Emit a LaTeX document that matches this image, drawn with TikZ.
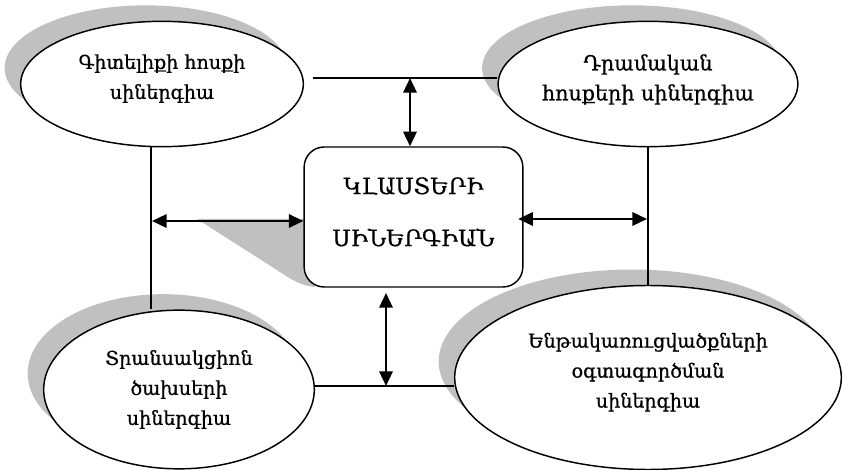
\documentclass[tikz,border=0pt]{standalone}
\usepackage{fontspec}
\setmainfont{DejaVu Serif}
\newfontfamily\armfont{DejaVu Serif}[FakeBold=0.8]
\newfontfamily\armcaps{DejaVu Serif}[FakeBold=0.4]
\usetikzlibrary{shapes.geometric,shadows,arrows.meta}
\definecolor{shadowgray}{RGB}{192,192,192}

\begin{document}
\begin{tikzpicture}[
    x=0.75pt, y=-0.75pt,
    synergy/.style={ellipse, draw=black, line width=1.1pt, fill=white, inner sep=0pt, align=center, font=\armfont\fontsize{14.3}{22.5}\selectfont, drop shadow={shadow xshift=-12pt, shadow yshift=12pt, fill=shadowgray, opacity=1}},
    cluster/.style={rectangle, rounded corners=15pt, draw=black, line width=1.1pt, fill=white, minimum width=164pt, minimum height=105pt, align=center, text depth=8pt, font=\armcaps\fontsize{17}{39}\selectfont},
    link/.style={line width=1.1pt},
    arrow/.style={line width=1.8pt,<->,>={Triangle[length=11pt,width=10pt]}}
]
\useasboundingbox (0,0) rectangle (843,470);

% Shadow behind the cluster box
\fill[shadowgray] (197,219) -- (280,272) .. controls (292,280) and (300,285) .. (314,287) -- (330,250) -- (330,219) -- cycle;

% Synergy ellipses and the cluster box
\node[synergy, minimum width=212pt, minimum height=94pt, text depth=11pt] (knowledge) at (162,84) {Գիտելիքի հոսքի\\սիներգիա};
\node[synergy, minimum width=224pt, minimum height=94pt, text depth=10pt, font=\armfont\fontsize{15.5}{22.5}\selectfont] (money) at (648,84) {Դրամական\\հոսքերի սիներգիա};
\node[cluster] (cluster) at (413.5,217) {ԿԼԱՍՏԵՐԻ\\ՍԻՆԵՐԳԻԱՆ};
\node[synergy, minimum width=203pt, minimum height=119pt] (transact) at (179,389.5) {Տրանսակցիոն\\ծախսերի\\սիներգիա};
\node[synergy, minimum width=290pt, minimum height=138pt, text depth=11pt] (infra) at (648,377.5) {Ենթակառուցվածքների\\օգտագործման\\սիներգիա};

% Connecting lines
\coordinate (topL) at (313,78);
\coordinate (leftV) at (151,0);
\coordinate (botL) at (0,386);
\draw[link] (topL) -- (topL -| money.west);
\draw[link] (knowledge.south -| leftV) -- (transact.north -| leftV);
\draw[link] (money.south) -- (infra.north);
\draw[link] (botL -| transact.east) -- (botL -| infra.west);

% Double arrows to the cluster
\coordinate (topA) at (410,78);
\coordinate (leftA) at (152,221);
\coordinate (rightA) at (647,219);
\coordinate (botA) at (386,293);
\draw[arrow] (topA) -- (topA |- cluster.north);
\draw[arrow] (leftA) -- (leftA -| cluster.west);
\draw[arrow] ([xshift=-4pt]rightA -| cluster.east) -- (rightA);
\draw[arrow] (botA) -- (botA |- botL);

\end{tikzpicture}
\end{document}
